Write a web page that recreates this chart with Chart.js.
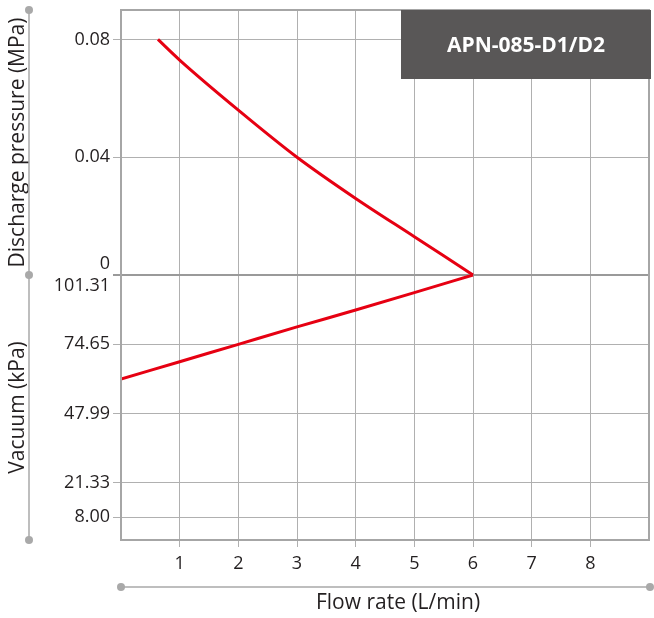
<!DOCTYPE html>
<html>
<head>
<meta charset="utf-8">
<script src="https://cdn.jsdelivr.net/npm/chart.js@4/dist/chart.umd.min.js"></script>
<style>
  body { margin: 0; background: #ffffff; }
  canvas { display: block; }
</style>
</head>
<body>
<canvas id="pumpChart" width="654" height="618"></canvas>
<script>
// values
const flowTicks = [1, 2, 3, 4, 5, 6, 7, 8];
const pressureTicks = [0, 0.04, 0.08];
const vacuumTicks = [8.00, 21.33, 47.99, 74.65, 101.31];

const pressureFlow = [0.63, 1, 2, 3, 4, 5, 6];
const pressureValues = [0.080, 0.073, 0.056, 0.040, 0.026, 0.013, 0];

const vacuumFlow = [0, 1, 2, 3, 4, 5, 6];
const vacuumValues = [61.2, 67.9, 74.6, 81.3, 87.8, 94.5, 101.31];

const modelName = 'APN-085-D1/D2';
const fontFamily = '"Open Sans", "Noto Sans", sans-serif';
const textColor = '#231f20';
const gridColor = '#b0b0b0';
const lineColor = '#e60012';
const decoColor = '#a9a9a9';

const toPoints = (xs, ys) => xs.map((x, i) => ({ x: x, y: ys[i] }));

// frame, side rulers with dots, model label box, x title
const decorations = {
    id: 'decorations',
    afterDraw(chart) {
        const ctx = chart.ctx;
        const area = chart.chartArea;
        const mid = chart.scales.yPress.getPixelForValue(0);

        ctx.save();
        ctx.strokeStyle = '#a6a6a6';
        ctx.lineWidth = 2;
        ctx.strokeRect(area.left, area.top, area.right - area.left, area.bottom - area.top);

        ctx.strokeStyle = decoColor;
        ctx.fillStyle = decoColor;
        ctx.lineWidth = 1.5;
        const rx = 29;
        ctx.beginPath();
        ctx.moveTo(rx, area.top);
        ctx.lineTo(rx, area.bottom);
        ctx.stroke();
        [area.top, mid, area.bottom].forEach(y => {
            ctx.beginPath();
            ctx.arc(rx, y, 4, 0, Math.PI * 2);
            ctx.fill();
        });

        const ry = area.bottom + 47;
        ctx.beginPath();
        ctx.moveTo(area.left, ry);
        ctx.lineTo(area.right + 1, ry);
        ctx.stroke();
        [area.left, area.right + 1].forEach(x => {
            ctx.beginPath();
            ctx.arc(x, ry, 4, 0, Math.PI * 2);
            ctx.fill();
        });

        // model box
        const bx = area.right - 248;
        ctx.fillStyle = '#595757';
        ctx.fillRect(bx, area.top, area.right + 2 - bx, 69);
        ctx.fillStyle = '#ffffff';
        ctx.font = 'bold 21px ' + fontFamily;
        ctx.textAlign = 'center';
        ctx.textBaseline = 'middle';
        ctx.fillText(modelName, (bx + area.right + 2) / 2, area.top + 36);

        // x axis title
        ctx.fillStyle = textColor;
        ctx.font = '21px ' + fontFamily;
        ctx.fillText('Flow rate (L/min)', (area.left + area.right) / 2 + 13, area.bottom + 63);
        ctx.restore();
    }
};

const yTitle = text => ({
    display: true,
    text: text,
    color: textColor,
    font: { family: fontFamily, size: 21 },
    padding: { top: 5, bottom: 0 }
});

const fitY = s => {
    s.width = 121;
    s.paddingTop = 0;
    s.paddingBottom = 0;
};

new Chart(document.getElementById('pumpChart'), {
    type: 'line',
    data: {
        datasets: [{
            label: 'Discharge pressure',
            data: toPoints(pressureFlow, pressureValues),
            yAxisID: 'yPress',
            borderColor: lineColor,
            borderWidth: 3,
            pointRadius: 0,
            cubicInterpolationMode: 'monotone',
            fill: false
        }, {
            label: 'Vacuum',
            data: toPoints(vacuumFlow, vacuumValues),
            yAxisID: 'yVac',
            borderColor: lineColor,
            borderWidth: 3,
            pointRadius: 0,
            cubicInterpolationMode: 'monotone',
            fill: false
        }]
    },
    options: {
        responsive: false,
        animation: false,
        layout: { padding: { top: 10, right: 5, left: 0, bottom: 0 } },
        plugins: { legend: { display: false }, tooltip: { enabled: false } },
        scales: {
            x: {
                type: 'linear',
                position: 'bottom',
                min: 0,
                max: 9,
                afterBuildTicks: s => { s.ticks = flowTicks.map(v => ({ value: v })); },
                afterFit: s => { s.height = 78; s.paddingLeft = 0; s.paddingRight = 0; },
                ticks: {
                    color: textColor,
                    font: { family: fontFamily, size: 18 },
                    padding: 6,
                    autoSkip: false,
                    maxRotation: 0
                },
                grid: { color: gridColor, tickLength: 7 },
                border: { display: false }
            },
            yVac: {
                type: 'linear',
                position: 'left',
                stack: 'pv',
                stackWeight: 1,
                min: -0.8,
                max: 101.31,
                afterBuildTicks: s => { s.ticks = vacuumTicks.map(v => ({ value: v })); },
                afterFit: fitY,
                ticks: {
                    color: textColor,
                    font: { family: fontFamily, size: 18 },
                    padding: 3,
                    autoSkip: false,
                    callback: v => v === 101.31 ? ['', v.toFixed(2)] : v.toFixed(2)
                },
                grid: {
                    color: c => c.tick && c.tick.value === 101.31 ? '#9a9a9a' : gridColor,
                    lineWidth: c => c.tick && c.tick.value === 101.31 ? 2 : 1,
                    tickLength: 8
                },
                border: { display: false },
                title: yTitle('Vacuum (kPa)')
            },
            yPress: {
                type: 'linear',
                position: 'left',
                stack: 'pv',
                stackWeight: 1,
                min: 0,
                max: 0.09,
                afterBuildTicks: s => { s.ticks = pressureTicks.map(v => ({ value: v })); },
                afterFit: fitY,
                ticks: {
                    color: textColor,
                    font: { family: fontFamily, size: 18 },
                    padding: 3,
                    autoSkip: false,
                    callback: v => v === 0 ? ['0', ''] : v.toFixed(2)
                },
                grid: {
                    color: c => c.tick && c.tick.value === 0 ? '#9a9a9a' : gridColor,
                    lineWidth: c => c.tick && c.tick.value === 0 ? 2 : 1,
                    tickLength: 8
                },
                border: { display: false },
                title: yTitle('Discharge pressure (MPa)')
            }
        }
    },
    plugins: [decorations]
});
</script>
</body>
</html>
